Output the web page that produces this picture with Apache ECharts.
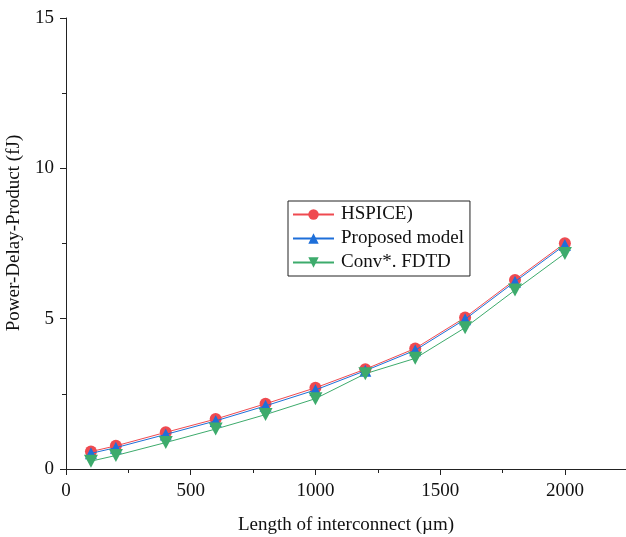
<!DOCTYPE html>
<html>
<head>
<meta charset="utf-8">
<script src="https://cdn.jsdelivr.net/npm/echarts@6/dist/echarts.min.js"></script>
<style>html,body{margin:0;padding:0;background:#fff}#c{width:626px;height:537px}</style>
</head>
<body>
<div id="c"></div>
<script>
const lengths = [100, 200, 400, 600, 800, 1000, 1200, 1400, 1600, 1800, 2000];
const hspice = [0.58, 0.77, 1.22, 1.66, 2.17, 2.70, 3.32, 4.01, 5.04, 6.29, 7.51];
const proposed = [0.52, 0.71, 1.15, 1.60, 2.10, 2.63, 3.27, 3.95, 4.98, 6.23, 7.45];
const fdtd = [0.26, 0.45, 0.88, 1.33, 1.81, 2.34, 3.17, 3.68, 4.70, 5.95, 7.17];
const seriesNames = ['HSPICE)', 'Proposed model', 'Conv*. FDTD'];

const font = 'Liberation Serif, Times New Roman, serif';
const colors = ['#ef4a50', '#1e6fd9', '#3dab6c'];
const symbols = ['circle', 'triangle', 'path://M0,0 L10,0 L5,9 Z'];
const sizes = [12, 12, [14, 13]];
const dataSets = [hspice, proposed, fdtd];

const chart = echarts.init(document.getElementById('c'));
chart.setOption({
  animation: false,
  backgroundColor: '#fff',
  textStyle: { fontFamily: font },
  grid: { left: 66, right: 0, top: 18, bottom: 68, containLabel: false, outerBoundsMode: 'none' },
  legend: {
    left: 288, top: 201,
    orient: 'vertical',
    backgroundColor: '#fff',
    borderColor: '#222', borderWidth: 1, borderRadius: 0,
    padding: [4, 6, 4, 4],
    itemGap: 5,
    itemWidth: 41, itemHeight: 13,
    textStyle: { fontFamily: font, fontSize: 19, color: '#111', padding: [0, 0, 0, 2] },
    data: seriesNames
  },
  xAxis: {
    type: 'value', min: 0, max: 2245, interval: 500,
    name: 'Length of interconnect (\u00b5m)', nameLocation: 'middle', nameGap: 47,
    nameTextStyle: { fontFamily: font, fontSize: 19, color: '#111' },
    axisLine: { show: true, onZero: false, lineStyle: { color: '#222', width: 1 } },
    axisTick: { show: true, length: 6, inside: false, lineStyle: { color: '#222' } },
    minorTick: { show: true, splitNumber: 2, length: 4, lineStyle: { color: '#222' } },
    axisLabel: { fontFamily: font, fontSize: 19, color: '#111', margin: 13, showMaxLabel: false,
      formatter: v => String(v) },
    splitLine: { show: false }
  },
  yAxis: {
    type: 'value', min: 0, max: 15, interval: 5,
    axisLine: { show: true, onZero: false, lineStyle: { color: '#222', width: 1 } },
    axisTick: { show: true, length: 6, inside: false, lineStyle: { color: '#222' } },
    minorTick: { show: true, splitNumber: 2, length: 4, lineStyle: { color: '#222' } },
    axisLabel: { fontFamily: font, fontSize: 19, color: '#111', margin: 12,
      formatter: v => String(v) },
    splitLine: { show: false }
  },
  graphic: [{
    type: 'text',
    x: 14, y: 233,
    rotation: Math.PI / 2,
    style: { text: 'Power-Delay-Product (fJ)', fontFamily: font, fontSize: 19, fill: '#111', align: 'center', verticalAlign: 'middle', textAlign: 'center', textVerticalAlign: 'middle' }
  }],
  series: dataSets.map((d, i) => ({
    name: seriesNames[i],
    type: 'line',
    data: lengths.map((x, j) => [x, d[j]]),
    symbol: symbols[i],
    symbolSize: sizes[i],
    lineStyle: { color: colors[i], width: 1 },
    itemStyle: { color: colors[i] },
    z: 3 + i
  }))
});
</script>
</body>
</html>
